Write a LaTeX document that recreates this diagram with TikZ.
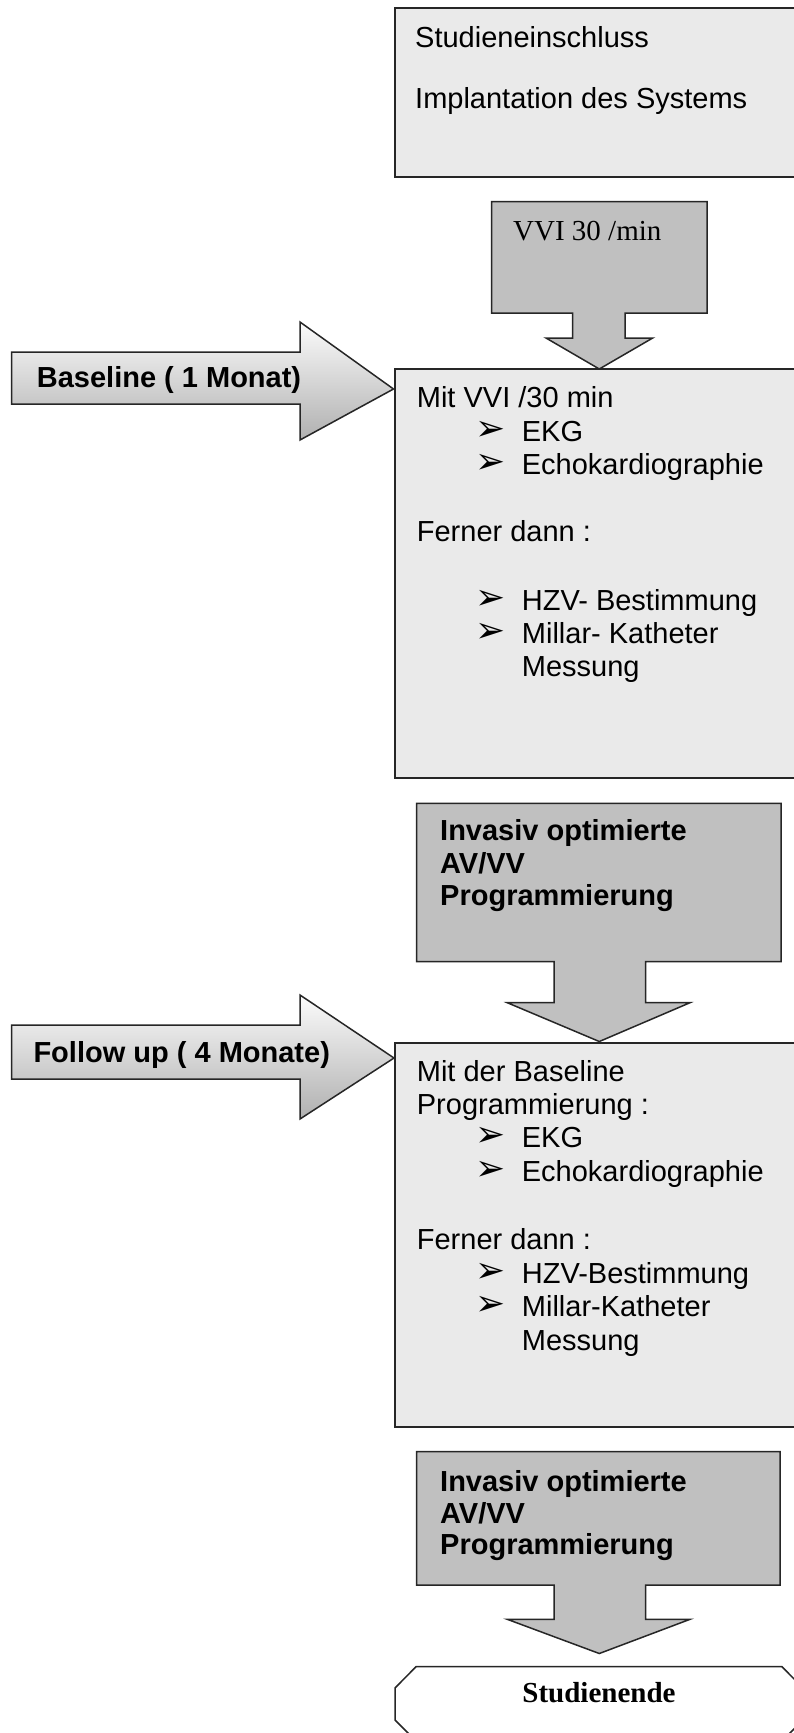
\documentclass[tikz,border=0pt]{standalone}
\usepackage{fontspec}
\setmainfont{Liberation Serif}
\setsansfont{Liberation Sans}
\newfontfamily\dingfont{DejaVu Sans}
\definecolor{panelgray}{HTML}{EAEAEA}
\definecolor{calloutgray}{HTML}{C0C0C0}
\newcommand\bul[1]{\makebox[46.7pt][l]{\raisebox{1pt}{\dingfont\fontsize{36}{36}\selectfont ➢}}#1}
\tikzset{
  panel/.style={fill=panelgray,draw=black!85,line width=1.8pt},
  callout/.style={fill=calloutgray,draw=black!85,line width=1.5pt,line join=miter},
  timearrow/.style={top color=gray!3,bottom color=gray!62,draw=black!85,line width=1.5pt,line join=miter},
  txt/.style={anchor=base west,inner sep=0pt,font=\sffamily\fontsize{29}{34}\selectfont},
  bold txt/.style={anchor=base west,inner sep=0pt,font=\sffamily\bfseries\fontsize{29}{34}\selectfont},
  serif txt/.style={inner sep=0pt,font=\rmfamily\fontsize{29}{34}\selectfont},
}
\begin{document}
\begin{tikzpicture}[x=1pt,y=-1pt]
  \useasboundingbox (0,0) rectangle (794,1733);
  \clip (0,0) rectangle (794,1733);
  \draw[panel] (395,8) rectangle (815,177);
  \node[txt] (incl) at (415,47) {Studieneinschluss};
  \node[txt] (impl) at (415,108) {Implantation des Systems};
  \draw[callout] (491.7,201.7) -- ++(215.3,0) -- ++(0,111.3) -- ++(-82,0) -- ++(0,25)
    -- ++(27.7,0) -- (599.3,369) -- (546,338) -- ++(26.7,0) -- ++(0,-25) -- (491.7,313) -- cycle;
  \node[serif txt,anchor=base west] (vvi) at (513,240) {VVI 30 /min};
  \draw[timearrow] (11.7,352) -- ++(288.3,0) -- ++(0,-30) -- (393.5,389) -- (300,440)
    -- ++(0,-36) -- (11.7,404) -- cycle;
  \node[bold txt] (base) at (36.7,387.7) {Baseline ( 1 Monat)};
  \draw[panel] (395,369) rectangle (815,778);
  \node[txt] (mit1) at (416.7,407.7) {Mit VVI /30 min};
  \node[txt] (ekg1) at (475,441) {\bul{EKG}};
  \node[txt] (echo1) at (475,474.3) {\bul{Echokardiographie}};
  \node[txt] (ferner1) at (416.7,541.7) {Ferner dann :};
  \node[txt] (hzv1) at (475,610) {\bul{HZV- Bestimmung}};
  \node[txt] (millar1) at (475,643.3) {\bul{Millar- Katheter}};
  \node[txt] (mess1) at (521.7,676.7) {Messung};
  \draw[callout] (416.7,803.3) -- ++(364.3,0) -- ++(0,158.4) -- (645.7,961.7) -- ++(0,41)
    -- (690,1002.7) -- (599.3,1041.5) -- (507.3,1002.7) -- (554,1002.7) -- ++(0,-41) -- (416.7,961.7) -- cycle;
  \node[bold txt] (inv1a) at (440,840) {Invasiv optimierte};
  \node[bold txt] (inv1b) at (440,873.3) {AV/VV};
  \node[bold txt] (inv1c) at (440,905) {Programmierung};
  \draw[timearrow] (11.7,1025) -- ++(288.3,0) -- ++(0,-30) -- (394,1058) -- (300,1119)
    -- ++(0,-40) -- (11.7,1079) -- cycle;
  \node[bold txt] (follow) at (33.3,1062) {Follow up ( 4 Monate)};
  \draw[panel] (395,1043) rectangle (815,1427);
  \node[txt] (mit2) at (416.7,1081) {Mit der Baseline};
  \node[txt] (prog2) at (416.7,1114.3) {Programmierung :};
  \node[txt] (ekg2) at (475,1147.7) {\bul{EKG}};
  \node[txt] (echo2) at (475,1181.7) {\bul{Echokardiographie}};
  \node[txt] (ferner2) at (416.7,1249.3) {Ferner dann :};
  \node[txt] (hzv2) at (475,1283.3) {\bul{HZV-Bestimmung}};
  \node[txt] (millar2) at (475,1316.7) {\bul{Millar-Katheter}};
  \node[txt] (mess2) at (521.7,1350.7) {Messung};
  \draw[callout] (416.7,1451.7) -- ++(363.3,0) -- ++(0,133.3) -- (645.7,1585) -- ++(0,34.3)
    -- (690,1619.3) -- (599.3,1653.5) -- (507.3,1619.3) -- (554,1619.3) -- ++(0,-34.3) -- (416.7,1585) -- cycle;
  \node[bold txt] (inv2a) at (440,1491.7) {Invasiv optimierte};
  \node[bold txt] (inv2b) at (440,1523.3) {AV/VV};
  \node[bold txt] (inv2c) at (440,1554.7) {Programmierung};
  \draw[fill=white,draw=black!85,line width=1.5pt] (416,1666.7) -- (782,1666.7) -- (803,1688) -- (803,1720)
    -- (782,1741) -- (416,1741) -- (395,1720) -- (395,1688) -- cycle;
  \node[serif txt,anchor=base,font=\rmfamily\bfseries\fontsize{29}{34}\selectfont] (ende) at (599,1702.7) {Studienende};
\end{tikzpicture}
\end{document}
